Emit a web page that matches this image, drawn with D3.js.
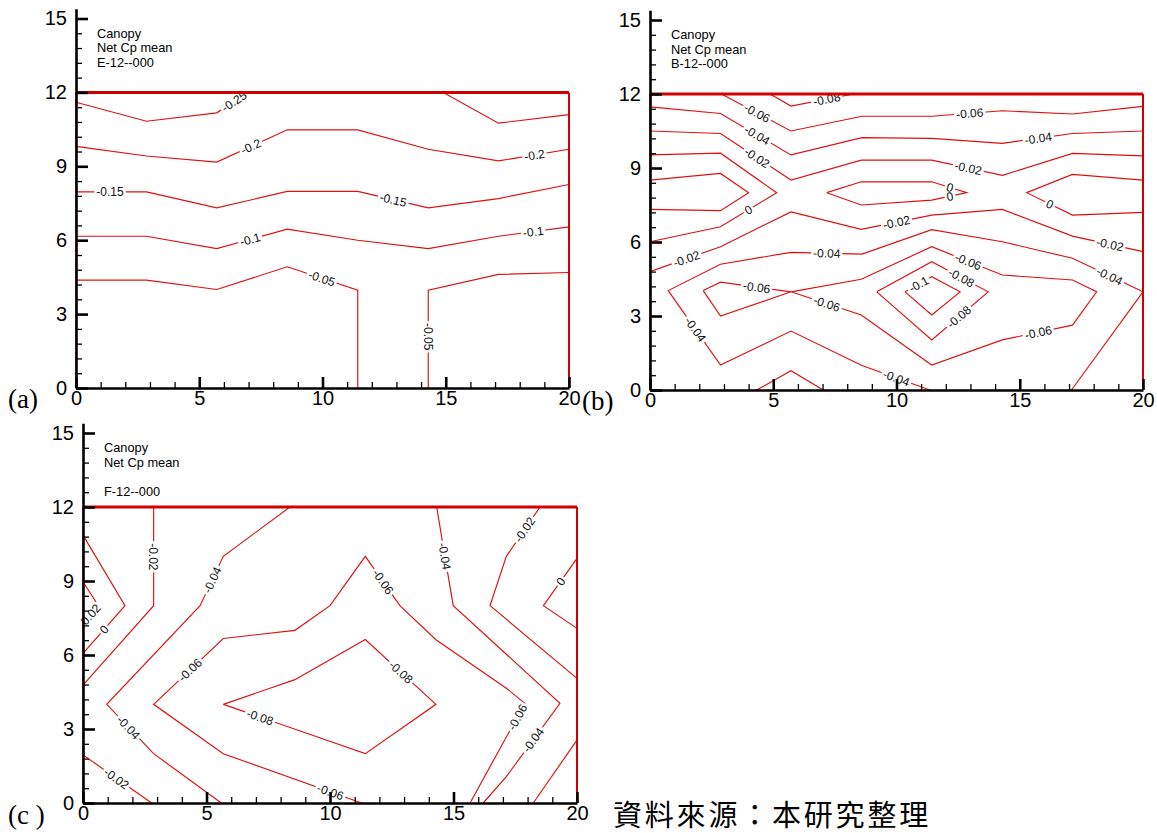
<!DOCTYPE html>
<html><head><meta charset="utf-8">
<script src="https://cdn.jsdelivr.net/npm/d3@7"></script>
<style>body{margin:0;background:#fff}svg{display:block}</style>
</head><body>
<svg id="chart" width="1157" height="833"></svg>
<script>
// ---------- data ----------
const xTickValues = [0, 5, 10, 15, 20];
const yTickValues = [0, 3, 6, 9, 12, 15];
const titlesA = ["Canopy", "Net Cp mean", "E-12--000"];
const titlesB = ["Canopy", "Net Cp mean", "B-12--000"];
const titlesC = ["Canopy", "Net Cp mean", "", "F-12--000"];
const panelLabels = ["(a)", "(b)", "(c )"];
const sourceNote = "資料來源：本研究整理";

// contour lines: level, polyline (x, y in data units), label spots
const contoursA = [
  {level:"-0.25", pts:[[0,11.6],[2.86,10.83],[5.71,11.17],[6.95,12]], labelAt:[[6.45,11.58]]},
  {level:"-0.25", pts:[[14.9,12],[17.14,10.75],[20,11.1]], labelAt:[]},
  {level:"-0.2", pts:[[0,9.81],[2.86,9.42],[5.71,9.17],[8.57,10.48],[11.43,10.48],[14.29,9.69],[17.14,9.22],[20,9.69]], labelAt:[[7.1,9.8],[18.6,9.45]]},
  {level:"-0.15", pts:[[0,7.96],[2.86,7.96],[5.71,7.31],[8.57,7.98],[11.43,7.98],[14.29,7.31],[17.14,7.69],[20,8.26]], labelAt:[[1.38,7.96],[12.87,7.65]]},
  {level:"-0.1", pts:[[0,6.16],[2.86,6.16],[5.71,5.66],[8.57,6.45],[11.43,6.0],[14.29,5.66],[17.14,6.16],[20,6.54]], labelAt:[[7.06,6.05],[18.55,6.35]]},
  {level:"-0.05", pts:[[0,4.38],[2.86,4.38],[5.71,4.0],[8.57,4.92],[11.43,3.97],[11.43,0]], labelAt:[[9.97,4.45]]},
  {level:"-0.05", pts:[[14.29,0],[14.29,3.97],[17.14,4.61],[20,4.69]], labelAt:[[14.29,2.08]]}
];

const contoursB = [
  {level:"-0.08", pts:[[4.87,12],[5.72,11.51],[8.25,12]], labelAt:[[7.17,11.78]]},
  {level:"-0.06", pts:[[2.9,12],[5.72,10.5],[8.6,11.1],[11.43,11.1],[14.29,11.32],[17.14,11.19],[20,11.5]], labelAt:[[4.33,11.2],[12.97,11.21]]},
  {level:"-0.04", pts:[[0,11.48],[2.86,11.21],[5.72,9.53],[8.6,10.23],[11.43,10.2],[14.29,10.0],[17.14,10.4],[20,10.5]], labelAt:[[4.33,10.3],[15.75,10.2]]},
  {level:"-0.02", pts:[[0,10.5],[2.86,10.4],[5.72,8.51],[8.57,9.32],[11.43,9.32],[14.29,8.7],[17.14,9.59],[20,9.49]], labelAt:[[4.33,9.4],[12.91,9.0]]},
  {level:"0", pts:[[0,9.53],[2.86,9.6],[5.14,8.0],[2.86,6.62],[0,6.01]], labelAt:[[3.99,7.3]]},
  {level:"0.02", pts:[[0,8.51],[2.86,8.78],[4.0,8.0],[2.86,7.27],[0,7.32]], labelAt:[]},
  {level:"0", pts:[[7.17,8.0],[8.57,8.44],[11.43,8.44],[12.85,8.0],[11.43,7.7],[8.57,7.5],[7.17,8.0]], labelAt:[[12.17,8.22],[12.17,7.85]]},
  {level:"0", pts:[[20,8.51],[17.14,8.74],[15.28,8.0],[17.14,7.09],[20,7.2]], labelAt:[[16.23,7.54]]},
  {level:"-0.02", pts:[[0,4.8],[2.86,5.81],[5.72,7.22],[8.57,6.51],[11.43,7.09],[14.29,7.32],[17.14,6.24],[20,5.61]], labelAt:[[1.49,5.3],[10.0,6.79],[18.66,5.9]]},
  {level:"-0.04", pts:[[11.35,0],[8.6,0.99],[5.72,2.39],[2.86,1.01],[0.74,4.03],[2.86,5.1],[5.72,5.58],[8.6,5.51],[11.43,6.5],[14.29,6.01],[17.14,5.34],[20,3.98]], labelAt:[[1.83,2.45],[7.17,5.55],[18.66,4.65],[10.0,0.5]]},
  {level:"-0.06", pts:[[2.16,4.03],[2.86,4.37],[5.72,3.98],[8.57,3.04],[11.43,1.01],[14.29,2.03],[17.14,2.63],[18.12,3.98],[17.14,4.46],[14.29,4.66],[11.43,5.81],[8.57,4.49],[5.72,3.98],[2.86,3.0],[2.16,4.03]], labelAt:[[4.33,4.17],[7.17,3.5],[12.91,5.22],[15.75,2.33]]},
  {level:"-0.08", pts:[[9.2,3.98],[11.43,5.2],[13.72,3.98],[11.43,2.03],[9.2,3.98]], labelAt:[[12.64,4.57],[12.5,3.0]]},
  {level:"-0.1", pts:[[10.35,3.98],[11.43,4.59],[12.58,3.98],[11.43,3.04],[10.35,3.98]], labelAt:[[10.89,4.3]]},
  {level:"-0.02", pts:[[4.33,0],[5.72,0.78],[7.03,0]], labelAt:[]},
  {level:"-0.04", pts:[[20,3.98],[17.1,0]], labelAt:[]}
];

const contoursC = [
  {level:"0", pts:[[0,10.86],[1.7,8.0],[0,6.07]], labelAt:[[0.89,7.0]]},
  {level:"0.02", pts:[[0,8.97],[0.62,8.0],[0,7.3]], labelAt:[[0.3,7.65]]},
  {level:"-0.02", pts:[[2.86,12],[2.86,8.0],[0,4.78]], labelAt:[[2.86,9.98]]},
  {level:"-0.04", pts:[[8.38,12],[5.68,10.0],[4.74,8.0],[0.96,4.0],[2.86,2.0],[5.6,0]], labelAt:[[5.23,9.04],[1.83,3.05]]},
  {level:"-0.02", pts:[[0,1.95],[2.78,0]], labelAt:[[1.36,1.0]]},
  {level:"-0.06", pts:[[11.28,0],[5.68,2.0],[2.86,4.0],[5.68,6.67],[8.58,7.0],[10.0,8.0],[11.43,10.0],[12.83,8.0],[14.29,6.62],[17.14,4.65],[17.89,4.04],[15.67,0]], labelAt:[[4.33,5.4],[12.15,8.97],[17.55,3.5],[10.0,0.4]]},
  {level:"-0.08", pts:[[5.68,4.0],[8.58,5.0],[11.43,6.63],[14.29,4.0],[11.43,2.0],[5.68,4.0]], labelAt:[[7.17,3.49],[12.83,5.26]]},
  {level:"-0.04", pts:[[14.32,12],[14.65,10.0],[14.99,8.0],[19.31,4.04],[17.14,1.07],[16.2,0]], labelAt:[[14.62,10.0],[18.23,2.55]]},
  {level:"-0.02", pts:[[18.5,12],[17.14,10.0],[16.48,8.0],[20,5.05]], labelAt:[[17.89,11.07]]},
  {level:"-0.02", pts:[[20,2.55],[18.23,0]], labelAt:[]},
  {level:"0", pts:[[20,9.92],[18.64,8.0],[20,7.08]], labelAt:[[19.31,9.0]]}
];

// ---------- layout / style ----------
const RED = "#e01010";
const BORDER = "#d00000";
const SANS = "'Liberation Sans', Arial, sans-serif";
const SERIF = "'Liberation Serif', 'Times New Roman', serif";
const panels = [
  {left:76,  right:569,  bottom:388, top15:18.5, contours:contoursA, titles:titlesA, label:panelLabels[0], lx:8,  ly:408},
  {left:650, right:1143, bottom:390, top15:20,   contours:contoursB, titles:titlesB, label:panelLabels[1], lx:582, ly:410},
  {left:83,  right:577,  bottom:803, top15:433,  contours:contoursC, titles:titlesC, label:panelLabels[2], lx:8,  ly:824}
];

const svg = d3.select("#chart");
svg.append("rect").attr("width",1157).attr("height",833).attr("fill","#fff");

function drawPanel(p){
  const x = d3.scaleLinear().domain([0,20]).range([p.left,p.right]);
  const y = d3.scaleLinear().domain([0,15]).range([p.bottom,p.top15]);
  const g = svg.append("g");
  const line = d3.line().x(d=>x(d[0])).y(d=>y(d[1]));

  // contour lines
  g.append("g").selectAll("path").data(p.contours).join("path")
    .attr("d", d=>line(d.pts)).attr("fill","none")
    .attr("stroke",RED).attr("stroke-width",1.15).attr("stroke-linejoin","miter");

  // contour labels
  const lg = g.append("g");
  p.contours.forEach(c=>{
    const px = c.pts.map(q=>[x(q[0]),y(q[1])]);
    c.labelAt.forEach(a=>{
      const P=[x(a[0]),y(a[1])];
      let best=null;
      for(let i=0;i<px.length-1;i++){
        const A=px[i],B=px[i+1];
        const dx=B[0]-A[0],dy=B[1]-A[1];
        const L2=dx*dx+dy*dy||1;
        let t=((P[0]-A[0])*dx+(P[1]-A[1])*dy)/L2; t=Math.max(0,Math.min(1,t));
        const Q=[A[0]+t*dx,A[1]+t*dy];
        const d=(Q[0]-P[0])**2+(Q[1]-P[1])**2;
        if(!best||d<best.d) best={d,Q,ang:Math.atan2(dy,dx)*180/Math.PI};
      }
      let ang=best.ang;
      if(ang>90) ang-=180;
      if(ang<=-90) ang+=180;
      const lab=lg.append("g").attr("transform",`translate(${best.Q[0]},${best.Q[1]}) rotate(${ang})`);
      const r=lab.append("rect").attr("fill","#fff");
      const t=lab.append("text").text(c.level)
        .attr("text-anchor","middle").attr("dy","0.36em")
        .attr("font-family",SANS).attr("font-size",12).attr("fill","#111");
      const w=t.node().getComputedTextLength();
      r.attr("x",-w/2-2).attr("y",-4.5).attr("width",w+4).attr("height",9);
    });
  });

  // boundary of the contour region
  g.append("path").attr("d",line([[0,0],[0,12]])).attr("stroke",BORDER).attr("stroke-width",1.2).attr("fill","none");
  g.append("path").attr("d",line([[20,0],[20,12]])).attr("stroke",BORDER).attr("stroke-width",2).attr("fill","none");
  g.append("path").attr("d",line([[0,12],[20,12]])).attr("stroke",BORDER).attr("stroke-width",3).attr("fill","none");

  // axes
  const yA = d3.scaleLinear().domain([0,15.4]).range([y(0),y(15.4)]);
  const yMinor = d3.range(0.6,15.4,0.6).filter(v=>Math.abs(v/3-Math.round(v/3))>1e-6);
  const xMinor = d3.range(1,20,1).filter(v=>v%5!==0);

  const ax1 = g.append("g").attr("transform",`translate(${p.left},0)`)
    .call(d3.axisLeft(yA).tickValues(yMinor).tickSize(-6).tickSizeOuter(0).tickFormat(""));
  ax1.select(".domain").remove();
  ax1.selectAll("line").attr("stroke","#000").attr("stroke-width",1.3);

  const ax2 = g.append("g").attr("transform",`translate(0,${p.bottom})`)
    .call(d3.axisBottom(x).tickValues(xMinor).tickSize(-6).tickSizeOuter(0).tickFormat(""));
  ax2.select(".domain").remove();
  ax2.selectAll("line").attr("stroke","#000").attr("stroke-width",1.3);

  const ay = g.append("g").attr("transform",`translate(${p.left},0)`)
    .call(d3.axisLeft(yA).tickValues(yTickValues).tickSize(-12).tickSizeOuter(0).tickPadding(9).tickFormat(d3.format("d")));
  const axx = g.append("g").attr("transform",`translate(0,${p.bottom})`)
    .call(d3.axisBottom(x).tickValues(xTickValues).tickSize(-11).tickSizeOuter(0).tickPadding(3).tickFormat(d3.format("d")));
  [ay,axx].forEach(a=>{
    a.select(".domain").attr("stroke","#000").attr("stroke-width",2.6);
    a.selectAll(".tick line").attr("stroke","#000").attr("stroke-width",2.6);
    a.selectAll("text").attr("font-family",SANS).attr("font-size",20).attr("fill","#000");
  });

  // title block
  g.append("g").selectAll("text").data(p.titles).join("text")
    .attr("x",p.left+21).attr("y",(d,i)=>p.top15+19+i*14.6)
    .attr("font-family",SANS).attr("font-size",12.8).attr("fill","#000").text(d=>d);

  // panel letter
  g.append("text").attr("x",p.lx).attr("y",p.ly).attr("font-family",SERIF)
    .attr("font-size",27).attr("fill","#000").text(p.label);
}
panels.forEach(drawPanel);

svg.append("text").attr("x",613).attr("y",826)
  .attr("font-family","'Noto Sans CJK TC', 'Noto Sans CJK SC', sans-serif")
  .attr("font-size",29).attr("letter-spacing",2.8).attr("fill","#000").text(sourceNote);
</script>
</body></html>
